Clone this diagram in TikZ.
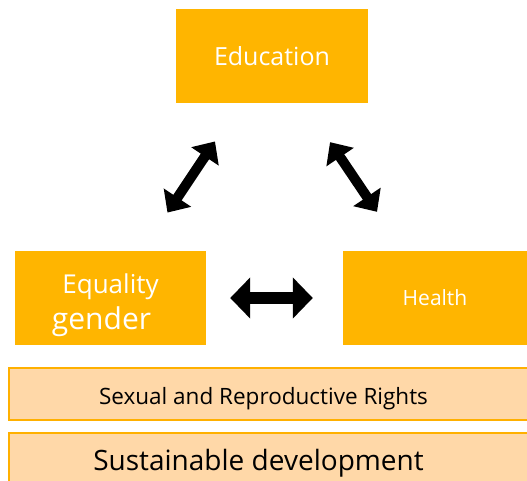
\documentclass[tikz,border=0pt]{standalone}
\usepackage{fontspec}
\setmainfont{Open Sans}
\usepackage{xcolor}
\usepackage{tikz}
\usetikzlibrary{arrows.meta}
\definecolor{gold}{RGB}{255,181,0}
\definecolor{peach}{RGB}{255,216,168}
\definecolor{goldline}{RGB}{255,176,0}
\tikzset{
  tile/.style  ={rectangle, fill=gold, text=white, align=center, inner sep=0pt},
  band/.style  ={rectangle, fill=peach, draw=goldline, line width=2pt,
                 align=center, inner sep=0pt, text=black},
  link/.style  ={{Triangle[length=20pt,width=40pt]}-{Triangle[length=20pt,width=40pt]},
                 line width=12pt, draw=black},
  dlink/.style ={{Triangle[length=18pt,width=32pt]}-{Triangle[length=18pt,width=32pt]},
                 line width=10pt, draw=black}
}

\begin{document}
\begin{tikzpicture}[x=1pt, y=-1pt]
\clip (0,0) rectangle (527,481);
\fill[white] (0,0) rectangle (527,481);

% the three themes
\node[tile, minimum width=192pt, minimum height=94pt] (edu) at (272,56)
  {\fontsize{25}{30}\selectfont Education};
\node[tile, minimum width=191pt, minimum height=94pt] (eq) at (110.5,298) {};
\node[text=white, align=center, inner sep=0pt] at ([yshift=-7pt]eq.center)
  {\fontsize{26}{30}\selectfont Equality\\[6pt]
   \fontsize{30}{34}\selectfont gender\hspace*{18pt}};
\node[tile, minimum width=184pt, minimum height=94pt] (health) at (435,298)
  {\fontsize{21}{25}\selectfont Health};

\draw[dlink, shorten <=46pt, shorten >=46pt] (edu) -- (eq);
\draw[dlink, shorten <=47pt, shorten >=47pt] (edu) -- (health);
\draw[link, shorten <=24pt, shorten >=30pt] (eq) -- (health);

% bands underneath
\node[band, minimum width=521pt, minimum height=52pt] (rights) at (269.5,394) {};
\node[inner sep=0pt] at ([xshift=-6pt, yshift=-5pt]rights.center)
  {\fontsize{22.5}{26}\selectfont Sexual and Reproductive Rights};
\node[band, minimum width=521pt, minimum height=60pt] (sustain) at (269.5,463)
  {\fontsize{28}{32}\selectfont Sustainable development\hspace*{22pt}};
\end{tikzpicture}
\end{document}
